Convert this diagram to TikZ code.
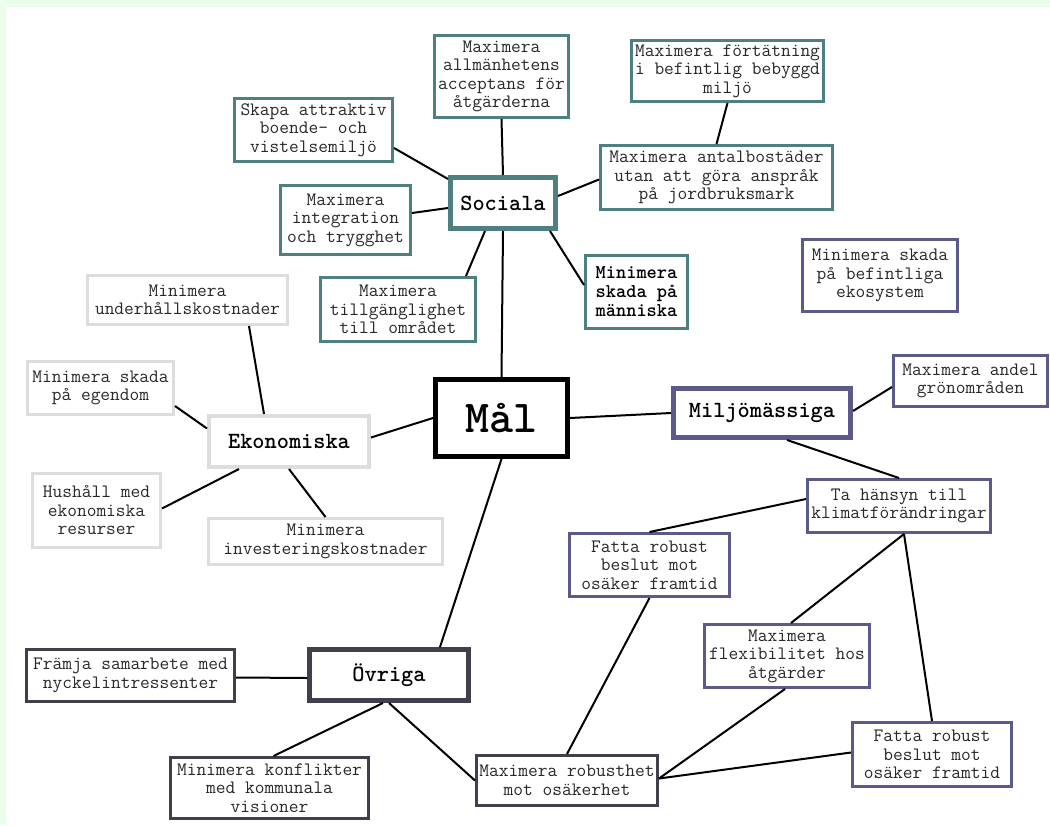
\documentclass[tikz,border=0pt]{standalone}
\usepackage{fontspec}
\usetikzlibrary{calc}
\definecolor{socc}{RGB}{78,128,130}
\definecolor{milc}{RGB}{92,90,138}
\definecolor{ovrc}{RGB}{64,64,76}
\definecolor{ekoc}{RGB}{221,221,221}
\definecolor{bggreen}{RGB}{235,253,235}
\definecolor{txt}{RGB}{40,40,40}
\tikzset{
  box/.style={draw, fill=white, inner sep=0pt, align=center, text=txt,
    font=\ttfamily\fontsize{18.9}{18.5}\selectfont, line width=3pt},
  head/.style={draw, fill=white, inner sep=0pt, align=center, text=black,
    font=\ttfamily\bfseries\fontsize{23.2}{24}\selectfont, line width=5pt},
  sbox/.style={box, draw=socc},
  shead/.style={head, draw=socc},
  ebox/.style={box, draw=ekoc},
  ehead/.style={head, draw=ekoc, line width=4pt},
  mbox/.style={box, draw=milc},
  mhead/.style={head, draw=milc},
  obox/.style={box, draw=ovrc},
  ohead/.style={head, draw=ovrc},
  malbox/.style={head, draw=black, font=\ttfamily\bfseries\fontsize{45.7}{48}\selectfont},
  conn/.style={line width=2pt, black},
}
\begin{document}
\begin{tikzpicture}[x=1pt,y=-1pt]
\useasboundingbox (0,0) rectangle (1050,825);
\fill[bggreen] (0,0) rectangle (1050,825);
\fill[white] (6,7) rectangle (1050,825);

% Sociala
\node[sbox, minimum width=134, minimum height=82] (acc) at (501.5,76.5) {Maximera\\allmänhetens\\acceptans för\\åtgärderna};
\node[sbox, minimum width=158, minimum height=63] (skapa) at (313.5,130) {Skapa attraktiv\\boende- och\\vistelsemiljö};
\node[shead, minimum width=105, minimum height=51] (soc) at (503,203) {Sociala};
\node[sbox, minimum width=130, minimum height=69] (integ) at (345.5,220) {Maximera\\integration\\och trygghet};
\node[sbox, minimum width=192, minimum height=61] (fort) at (727.5,71) {Maximera förtätning\\i befintlig bebyggd\\miljö};
\node[sbox, minimum width=232, minimum height=64] (antal) at (716.5,177.5) {Maximera antalbostäder\\utan att göra anspråk\\på jordbruksmark};
\node[sbox, minimum width=102, minimum height=73, text=black, font=\ttfamily\bfseries\fontsize{19.5}{19}\selectfont] (manni) at (636.5,292) {Minimera\\skada på\\människa};
\node[sbox, minimum width=155, minimum height=64] (tillg) at (398,309.5) {Maximera\\tillgänglighet\\till området};

% Miljö (standalone)
\node[mbox, minimum width=155, minimum height=72] (eko) at (880,275.5) {Minimera skada\\på befintliga\\ekosystem};

% Ekonomiska
\node[ebox, minimum width=200, minimum height=49] (under) at (187.5,300) {Minimera\\underhållskostnader};
\node[ebox, minimum width=146, minimum height=53] (egen) at (100.5,388) {Minimera skada\\på egendom};
\node[ehead, minimum width=160, minimum height=51] (ekon) at (289,441.5) {Ekonomiska};
\node[ebox, minimum width=128, minimum height=74] (hush) at (96.5,510.5) {Hushåll med\\ekonomiska\\resurser};
\node[ebox, minimum width=234, minimum height=46] (invest) at (325.5,541.5) {Minimera\\investeringskostnader};

% Mål
\node[malbox, minimum width=132, minimum height=77] (mal) at (501.5,418) {Mål};

% Miljömässiga
\node[mhead, minimum width=177, minimum height=49] (milj) at (762,413) {Miljömässiga};
\node[mbox, minimum width=154, minimum height=51] (andel) at (970.5,381) {Maximera andel\\grönområden};
\node[mbox, minimum width=183, minimum height=53] (hansyn) at (899,506) {Ta hänsyn till\\klimatförändringar};
\node[mbox, minimum width=160, minimum height=63] (fattaA) at (649.5,565) {Fatta robust\\beslut mot\\osäker framtid};
\node[mbox, minimum width=165, minimum height=63] (flex) at (787,656) {Maximera\\flexibilitet hos\\åtgärder};
\node[mbox, minimum width=159, minimum height=64] (fattaB) at (932,754.5) {Fatta robust\\beslut mot\\osäker framtid};
\node[obox, minimum width=181, minimum height=50] (robust) at (567,780.5) {Maximera robusthet\\mot osäkerhet};

% Övriga
\node[obox, minimum width=208, minimum height=52] (framja) at (130.5,675.5) {Främja samarbete med\\nyckelintressenter};
\node[ohead, minimum width=159, minimum height=51] (ovr) at (389,675) {Övriga};
\node[obox, minimum width=198, minimum height=61] (konf) at (269.5,788) {Minimera konflikter\\med kommunala\\visioner};

% connectors
\draw[conn] (mal.north) -- (soc.south);
\draw[conn] (mal.west) -- ($(ekon.east)+(0,-4)$);
\draw[conn] (mal.east) -- (milj.west);
\draw[conn] (mal.south) -- ($(ovr.north)+(51,0)$);

\draw[conn] (soc.north) -- (acc.south);
\draw[conn] ($(soc.north west)+(0,4)$) -- ($(skapa.east)+(0,18)$);
\draw[conn] ($(soc.west)+(0,5)$) -- ($(integ.east)+(0,-7)$);
\draw[conn] ($(soc.east)+(0,-7)$) -- ($(antal.west)+(0,2)$);
\draw[conn] (antal.north) -- (fort.south);
\draw[conn] ($(soc.south)+(-18,0)$) -- ($(tillg.north)+(68,0)$);
\draw[conn] ($(soc.south)+(47,0)$) -- ($(manni.west)+(0,-7)$);

\draw[conn] ($(ekon.north)+(-25,0)$) -- ($(under.south)+(61.5,0)$);
\draw[conn] ($(ekon.west)+(0,-13)$) -- ($(egen.east)+(0,18)$);
\draw[conn] ($(ekon.south)+(-50,0)$) -- ($(hush.east)+(0,-2)$);
\draw[conn] (ekon.south) -- (invest.north);

\draw[conn] ($(milj.east)+(0,-2)$) -- ($(andel.west)+(0,6)$);
\draw[conn] ($(milj.south)+(25,0)$) -- (hansyn.north);
\draw[conn] ($(hansyn.west)+(0,-7)$) -- (fattaA.north);
\draw[conn] ($(hansyn.south)+(5,0)$) -- ($(flex.north)+(4,0)$);
\draw[conn] ($(hansyn.south)+(5,0)$) -- (fattaB.north);
\draw[conn] (fattaA.south) -- (robust.north);
\draw[conn] ($(flex.south)+(-2,0)$) -- ($(robust.east)+(0,-2)$);
\draw[conn] ($(fattaB.west)+(0,-2)$) -- ($(robust.east)+(0,-2)$);

\draw[conn] ($(ovr.west)+(0,3)$) -- ($(framja.east)+(0,2)$);
\draw[conn] ($(ovr.south)+(-6,0)$) -- ($(konf.north)+(4,0)$);
\draw[conn] (ovr.south) -- (robust.west);
\end{tikzpicture}
\end{document}
